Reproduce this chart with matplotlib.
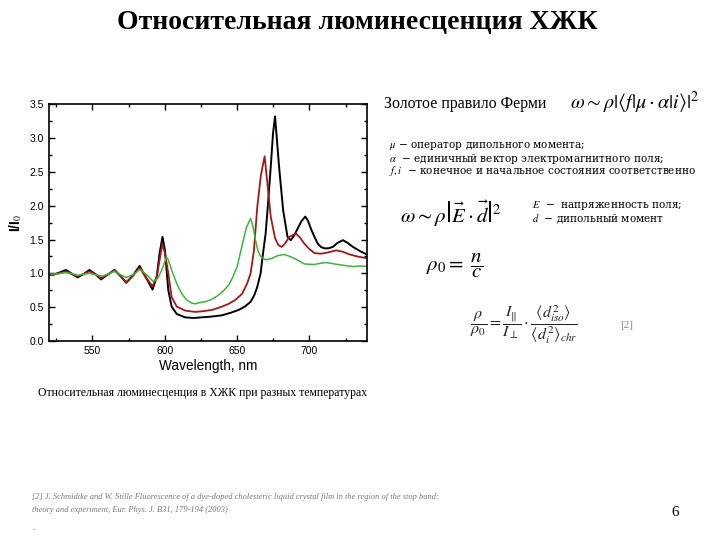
import numpy as np
import matplotlib
matplotlib.use("Agg")
import matplotlib.pyplot as plt

plt.rcParams["mathtext.fontset"] = "stix"

# wavelength (nm) and I/I0
black_wl = [520, 523, 527, 531.7, 535.5, 539.8, 544, 547.9, 552, 556, 560.5, 565.3, 569.5, 573.4, 578,
            582.7, 587, 591.6, 594.5, 596.5, 598.5, 600.2, 601.5, 602.5, 604.8, 608.3, 614.1, 620, 625.7,
            632, 639.6, 646, 651.2, 655.5, 659.4, 662, 664, 666.3, 668, 669.8, 671.5, 673.3, 674.9, 676.3,
            677.5, 679.1, 681.9, 684.9, 687.2, 689.5, 691.9, 694.5, 697.2, 699, 701.1, 703.5, 705.8, 708,
            710.5, 713, 716.2, 719.5, 723.2, 726.5, 730.2, 735, 740.6]
black_val = [0.99, 0.98, 1.01, 1.05, 1.0, 0.94, 0.99, 1.05, 0.99, 0.91, 0.98, 1.05, 0.96, 0.86, 0.97,
             1.11, 0.94, 0.76, 0.95, 1.3, 1.54, 1.34, 1.0, 0.75, 0.51, 0.40, 0.35, 0.34, 0.35,
             0.36, 0.38, 0.42, 0.46, 0.51, 0.58, 0.68, 0.80, 1.0, 1.3, 1.59, 2.05, 2.57, 3.07, 3.32,
             3.0, 2.57, 1.93, 1.54, 1.49, 1.56, 1.66, 1.77, 1.84, 1.78, 1.66, 1.54, 1.44, 1.39,
             1.37, 1.37, 1.39, 1.45, 1.49, 1.45, 1.39, 1.33, 1.27]

red_wl = [520, 523, 527, 531.7, 535.5, 539.8, 544, 547.9, 552, 556, 560.5, 565.3, 569.5, 573.4, 578,
          582.7, 587, 591.6, 594.5, 596.5, 598.3, 600.2, 602.5, 604.8, 608.3, 614.1, 621, 626.5, 632.7,
          638.5, 644.3, 649, 653.6, 657, 659.4, 661.7, 664, 666.5, 669.1, 671, 673.3, 676.3, 678.5, 680.9,
          683.5, 686.1, 690.7, 693.5, 696.5, 700, 703.5, 708, 713, 718.6, 723, 727.9, 733, 740.6]
red_val = [0.97, 0.98, 1.0, 1.03, 0.99, 0.96, 0.99, 1.03, 0.99, 0.93, 0.98, 1.04, 0.96, 0.87, 0.96,
           1.08, 0.94, 0.81, 0.95, 1.2, 1.43, 1.3, 1.0, 0.65, 0.51, 0.45, 0.43, 0.44, 0.46,
           0.50, 0.55, 0.61, 0.70, 0.85, 1.0, 1.34, 1.98, 2.45, 2.73, 2.33, 1.84, 1.52, 1.42, 1.39,
           1.45, 1.54, 1.59, 1.53, 1.44, 1.36, 1.30, 1.29, 1.31, 1.34, 1.32, 1.28, 1.25, 1.22]

green_wl = [520, 525, 531, 535.5, 540, 544, 548, 552, 557, 561, 565, 569.5, 573.4, 578, 583, 587.5, 592,
            595, 598, 601.3, 602.5, 604.8, 608.3, 611.8, 615, 618.7, 621, 624.5, 628, 633, 637.3, 641,
            644.3, 647, 650.1, 653.6, 656.5, 659.4, 661, 662.8, 664.5, 666.3, 669.8, 674, 678, 682.6,
            686.5, 690.7, 696.5, 703, 708, 711.6, 717, 723.2, 730.2, 735, 740.6]
green_val = [0.99, 0.99, 1.01, 1.0, 0.97, 0.99, 1.0, 0.98, 0.96, 0.99, 1.03, 0.98, 0.94, 0.98, 1.06, 0.98, 0.88,
             0.92, 1.05, 1.24, 1.20, 1.05, 0.85, 0.70, 0.61, 0.56, 0.55, 0.57, 0.58, 0.62, 0.68, 0.75,
             0.83, 0.94, 1.1, 1.42, 1.68, 1.81, 1.7, 1.49, 1.33, 1.25, 1.20, 1.22, 1.26, 1.28,
             1.25, 1.21, 1.14, 1.13, 1.15, 1.16, 1.14, 1.12, 1.10, 1.11, 1.10]

fig = plt.figure(figsize=(7.2, 5.4), dpi=100)


def px(x, y):
    return x / 720, 1 - y / 540


ax = fig.add_axes([0.068, 0.3685, 0.442, 0.4385])
ax.plot(black_wl, black_val, color="black", lw=1.4)
ax.plot(red_wl, red_val, color="#a01818", lw=1.3)
ax.plot(green_wl, green_val, color="#3cb43c", lw=1.1)
ax.set_xlim(520, 740)
ax.set_ylim(0, 3.5)
ax.set_xticks([550, 600, 650, 700])
ax.set_xticks([525, 575, 625, 675, 725], minor=True)
ax.set_yticks(np.arange(0, 3.51, 0.5))
ax.set_yticks(np.arange(0.25, 3.5, 0.5), minor=True)
ax.yaxis.set_major_formatter(matplotlib.ticker.FormatStrFormatter("%.1f"))
ax.tick_params(which="both", direction="in", top=True, right=True, labelsize=7.5, width=1)
ax.tick_params(which="major", length=4)
ax.tick_params(which="minor", length=2)
for s in ax.spines.values():
    s.set_linewidth(1.2)
for lab in ax.get_xticklabels() + ax.get_yticklabels():
    lab.set_family("Liberation Sans")
ax.set_xlabel("Wavelength, nm", fontsize=9.8, family="Liberation Sans", labelpad=2)
ax.set_ylabel("I/I$_0$", fontsize=10, fontweight="bold", family="Liberation Sans", labelpad=4)

serif = "Liberation Serif"
small = "DejaVu Serif"
fig.text(*px(357, 22), "Относительная люминесценция ХЖК", ha="center", va="center",
         fontsize=20, fontweight="bold", family=serif)
fig.text(*px(203, 393), "Относительная люминесценция в ХЖК при разных температурах",
         ha="center", va="center", fontsize=8.5, family=serif)

fig.text(*px(384, 104), "Золотое правило Ферми", ha="left", va="center", fontsize=11.4, family=serif)
fig.text(*px(570, 103), r"$\omega{\sim}\rho|\langle f|\mu\cdot\alpha|i\rangle|^2$",
         ha="left", va="center", fontsize=14.5)

defs = [r"$\mu$ − оператор дипольного момента;",
        r"$\alpha$  − единичный вектор электромагнитного поля;",
        r"$f, i$  − конечное и начальное состояния соответственно"]
for i, d in enumerate(defs):
    fig.text(*px(389, 146 + i * 12.7), d, ha="left", va="center", fontsize=7.6, family=small)

fig.text(*px(400, 214), r"$\omega{\sim}\rho\left|\vec{E}\cdot\vec{d}\right|^2$",
         ha="left", va="center", fontsize=15)
fig.text(*px(532, 205), r"$E$  −  напряженность поля;", ha="left", va="center", fontsize=7.6, family=small)
fig.text(*px(532, 219), r"$d$  − дипольный момент", ha="left", va="center", fontsize=7.6, family=small)

fig.text(*px(426, 266), r"$\rho_0 = \ \dfrac{n}{c}$", ha="left", va="center", fontsize=15)
fig.text(*px(470, 325),
         r"$\dfrac{\rho}{\rho_0} = \dfrac{I_{\|}}{I_{\perp}}\cdot\dfrac{\langle d^2_{iso}\rangle}{\langle d^2_i\rangle_{chr}}$",
         ha="left", va="center", fontsize=11.5, color="#222222")
fig.text(*px(620, 325), "[2]", ha="left", va="center", fontsize=8, color="#888888", family=serif)

ref1 = ("[2] J. Schmidtke and W. Stille Fluorescence of a dye-doped cholesteric liquid crystal film "
        "in the region of the stop band:")
ref2 = "theory and experiment, Eur. Phys. J. B31, 179-194 (2003)"
fig.text(*px(32, 497), ref1, ha="left", va="center", fontsize=6.0, style="italic", color="#777777", family=serif)
fig.text(*px(32, 510), ref2, ha="left", va="center", fontsize=6.0, style="italic", color="#777777", family=serif)
fig.text(*px(32, 528), ".", ha="left", va="center", fontsize=7, color="#777777", family=serif)
fig.text(*px(675, 513), "6", ha="center", va="center", fontsize=11, family=serif)

fig.savefig("out.png", dpi=100)
